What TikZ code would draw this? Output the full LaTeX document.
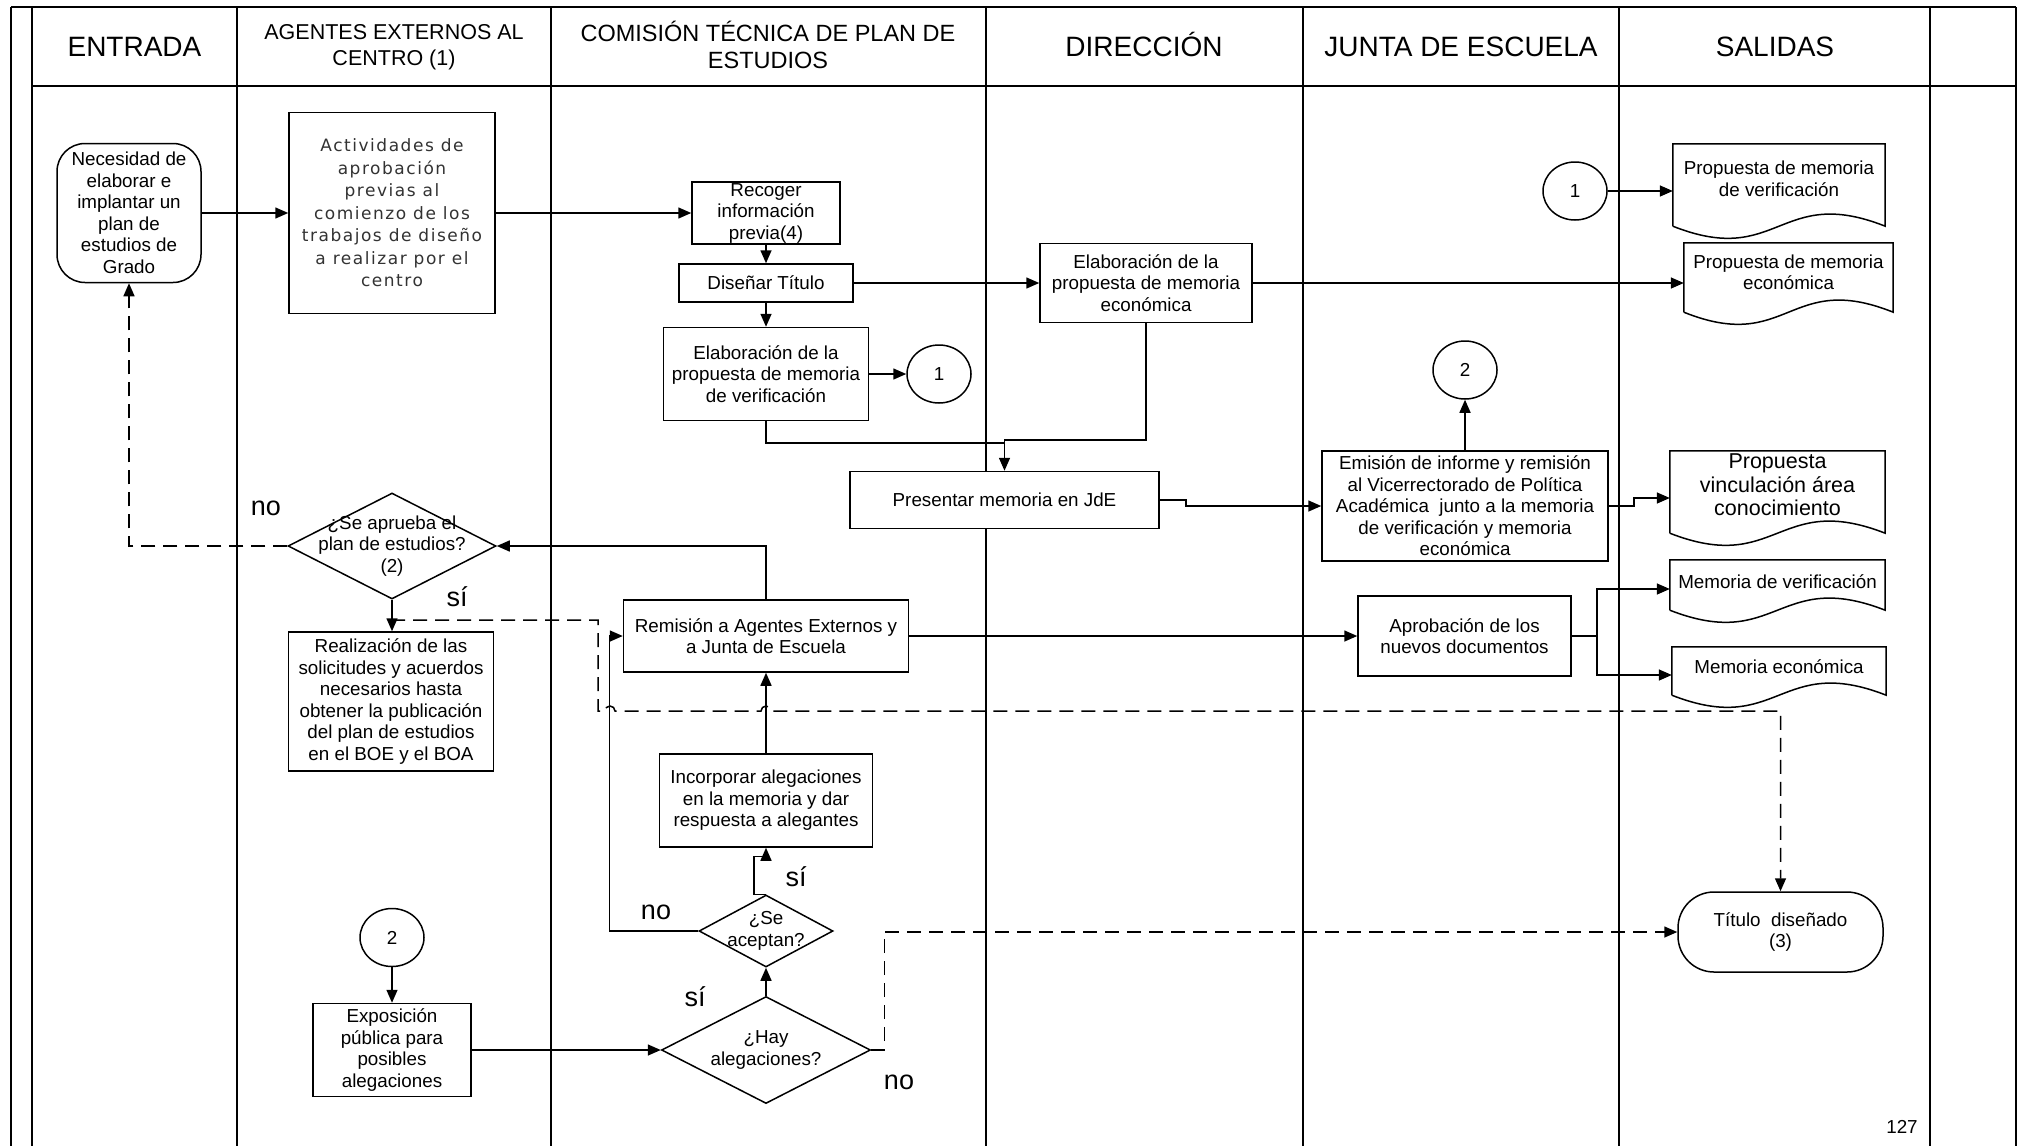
\documentclass[tikz,border=0pt]{standalone}
\usepackage{fontspec}
\setmainfont{Liberation Sans}
\newfontfamily\actfont[LetterSpace=9]{DejaVu Sans}
\usetikzlibrary{shapes.geometric,arrows.meta,calc}
\newcommand\docout[1]{\draw[line width=1.5pt] (#1.south west) -- (#1.north west) -- (#1.north east) -- (#1.south east) .. controls ($(#1.south)+(0,-42)$) and ($(#1.south)+(0,42)$) .. (#1.south west);}
\begin{document}
\begin{tikzpicture}[x=1pt,y=-1pt,
  every node/.style={font=\fontsize{18.8}{21.5}\selectfont, align=center, inner sep=0pt},
  sz/.style 2 args={minimum width=#1pt, minimum height=#2pt},
  box/.style={draw, rectangle, fill=white, line width=1.5pt},
  docb/.style={rectangle, fill=white},
  circ/.style={draw, ellipse, fill=white, line width=1.5pt, minimum width=64pt, minimum height=58pt},
  dia/.style={draw, diamond, aspect=2, fill=white, line width=1.5pt},
  ln/.style={line width=1.5pt},
  arr/.style={line width=1.5pt, -{Triangle[length=13pt,width=11pt]}},
  dsh/.style={line width=1.5pt, dash pattern=on 14pt off 8pt},
  frame/.style={line width=1.8pt},
  lab/.style={font=\fontsize{27}{30}\selectfont},
  hd/.style={font=\fontsize{28}{30}\selectfont, anchor=base}]
\fill[white] (0,0) rectangle (2020,1146);
\useasboundingbox (0,0) rectangle (2020,1146);
% frame
\draw[frame] (11,7) -- (2016,7);
\draw[frame] (32,86) -- (2016,86);
\foreach \x in {11,32,237,551,986,1303,1619,1930,2016} \draw[frame] (\x,7) -- (\x,1146);
% headers
\node[hd] (hE) at (134.5,56) {ENTRADA};
\node[font=\fontsize{21.5}{26}\selectfont] (hA) at (394,47) {AGENTES EXTERNOS AL\\CENTRO (1)};
\node[font=\fontsize{23.5}{27}\selectfont] (hC) at (768,45) {COMISIÓN TÉCNICA DE PLAN DE\\ESTUDIOS};
\node[hd] (hD) at (1144,56) {DIRECCIÓN};
\node[hd] (hJ) at (1461,56) {JUNTA DE ESCUELA};
\node[hd] (hS) at (1775,56) {SALIDAS};
% nodes
\node[box, rounded corners=28pt, sz={144}{139}] (nec) at (129,213) {Necesidad de\\elaborar e\\implantar un\\plan de\\estudios de\\Grado};
\node[box, sz={206}{201}, font=\actfont\fontsize{17}{22.5}\selectfont, text=black!80] (act) at (392,213) {Actividades de\\aprobación\\previas al\\comienzo de los\\trabajos de diseño\\a realizar por el\\centro};
\node[box, sz={148}{62}] (rec) at (766,213) {Recoger\\información\\previa(4)};
\node[box, sz={174}{38}] (dis) at (766,283) {Diseñar Título};
\node[box, sz={205}{93}] (ver) at (766,374) {Elaboración de la\\propuesta de memoria\\de verificación};
\node[circ] (c1a) at (939,374) {1};
\node[box, sz={212}{79}] (eco) at (1146,283) {Elaboración de la\\propuesta de memoria\\económica};
\node[box, sz={309}{57}] (pre) at (1004.5,500) {Presentar memoria en JdE};
\node[box, sz={286}{110}] (emi) at (1465,506) {Emisión de informe y remisión\\al Vicerrectorado de Política\\Académica\ \ junto a la memoria\\de verificación y memoria\\económica};
\node[circ] (c2a) at (1465,370) {2};
\node[circ] (c1b) at (1575,191) {1};
\node[docb, sz={212}{82}, label={[yshift=6pt]center:{Propuesta de memoria\\de verificación}}] (d1) at (1779,185) {};
\node[docb, sz={209}{69}, label={[yshift=5pt]center:{Propuesta de memoria\\económica}}] (d2) at (1788.5,277.5) {};
\node[docb, sz={215}{82}, label={[yshift=7pt,font=\fontsize{21.5}{23.3}\selectfont]center:{Propuesta\\vinculación área\\conocimiento}}] (d3) at (1777.5,492) {};
\node[docb, sz={215}{50}, label={[yshift=3pt]center:{Memoria de verificación}}] (d4) at (1777.5,585) {};
\node[docb, sz={214}{48}, label={[yshift=4pt]center:{Memoria económica}}] (d5) at (1779,671) {};
\docout{d1}\docout{d2}\docout{d3}\docout{d4}\docout{d5}
\node[box, sz={213}{80}] (apr) at (1464.5,636) {Aprobación de los\\nuevos documentos};
\node[box, rounded corners=36pt, sz={205}{80}] (tit) at (1780.5,932) {Título\ \ diseñado\\(3)};
\node[dia, sz={208}{106}, label={center:{¿Se aprueba el\\plan de estudios?\\(2)}}] (ap) at (392,546) {};
\node[box, sz={205}{139}] (rea) at (391,701.5) {Realización de las\\solicitudes y acuerdos\\necesarios hasta\\obtener la publicación\\del plan de estudios\\en el BOE y el BOA};
\node[box, sz={285}{72}] (rem) at (766,636) {Remisión a Agentes Externos y\\a Junta de Escuela};
\node[box, sz={213}{93}] (inc) at (766,800.5) {Incorporar alegaciones\\en la memoria y dar\\respuesta a alegantes};
\node[dia, sz={134}{72}, label={center:{¿Se\\aceptan?}}] (acep) at (766,931) {};
\node[dia, sz={209}{107}, label={center:{¿Hay\\alegaciones?}}] (hay) at (766,1050) {};
\node[circ] (c2b) at (392,937.5) {2};
\node[box, sz={158}{93}] (exp) at (392,1050) {Exposición\\pública para\\posibles\\alegaciones};
% coordinates
\coordinate (mj) at (1004.5,440);
\coordinate (sp) at (1597,636);
\coordinate (s0) at (391,620);
% connectors
\draw[arr] (nec.east) -- (act.west);
\draw[arr] (act.east) -- (act.east -| rec.west);
\draw[arr] (rec.south) -- (dis.north);
\draw[arr] (dis.south) -- (dis.south |- ver.north);
\draw[arr] (ver.east) -- (ver.east -| c1a.west);
\draw[arr] (dis.east) -- (dis.east -| eco.west);
\draw[arr] (eco.east) -- (eco.east -| d2.west);
\draw[ln] (ver.south) |- ($(mj)+(0,3)$);
\draw[arr] (eco.south) |- (mj) -- (pre.north);
\draw[arr] (pre.east) -- ++(26,0) |- (emi.west);
\draw[arr] (emi.north) -- (c2a.south);
\draw[arr] (emi.east) -- ++(25,0) |- ($(d3.west)+(0,6)$);
\draw[arr] (c1b.east) -- (c1b.east -| d1.west);
\draw[arr] (rem.east) -- (apr.west);
\draw[ln] (apr.east) -- (sp);
\draw[arr] (sp) |- ($(d4.west)+(0,4)$);
\draw[arr] (sp) |- ($(d5.west)+(0,4)$);
\draw[arr] (rem.north) |- (ap.east);
\draw[dsh, -{Triangle[length=13pt,width=11pt]}] (ap.west) -| (nec.south);
\draw[arr] (ap.south) -- (ap.south |- rea.north);
\draw[dsh, -{Triangle[length=13pt,width=11pt]}] (s0) -- ++(207,0) -- ++(0,91) -- ++(7,0) arc[start angle=180, end angle=360, radius=5] -- ++(146,0) arc[start angle=180, end angle=360, radius=5] -- (tit.north |- 0,711) -- (tit.north);
\draw[arr] (acep.west) -- ++(-89,0) |- (rem.west);
\draw[arr] (inc.north) -- (rem.south);
\draw[arr] (acep.north) -- ++(-12,0) -- ++(0,-38) -- ++(12,0) -- (inc.south);
\draw[arr] (hay.north) -- (acep.south);
\draw[dsh, -{Triangle[length=13pt,width=11pt]}] (hay.east) -- ++(13,0) |- (tit.west);
\draw[arr] (c2b.south) -- (exp.north);
\draw[arr] (exp.east) -- (hay.west);
% labels
\node[lab] (l1) at (266,508) {no};
\node[lab] (l2) at (457,597) {sí};
\node[lab] (l3) at (796,877) {sí};
\node[lab] (l4) at (656,912) {no};
\node[lab] (l5) at (695,997) {sí};
\node[lab] (l6) at (899,1082) {no};
\node (pg) at (1902,1127) {127};
\end{tikzpicture}
\end{document}
